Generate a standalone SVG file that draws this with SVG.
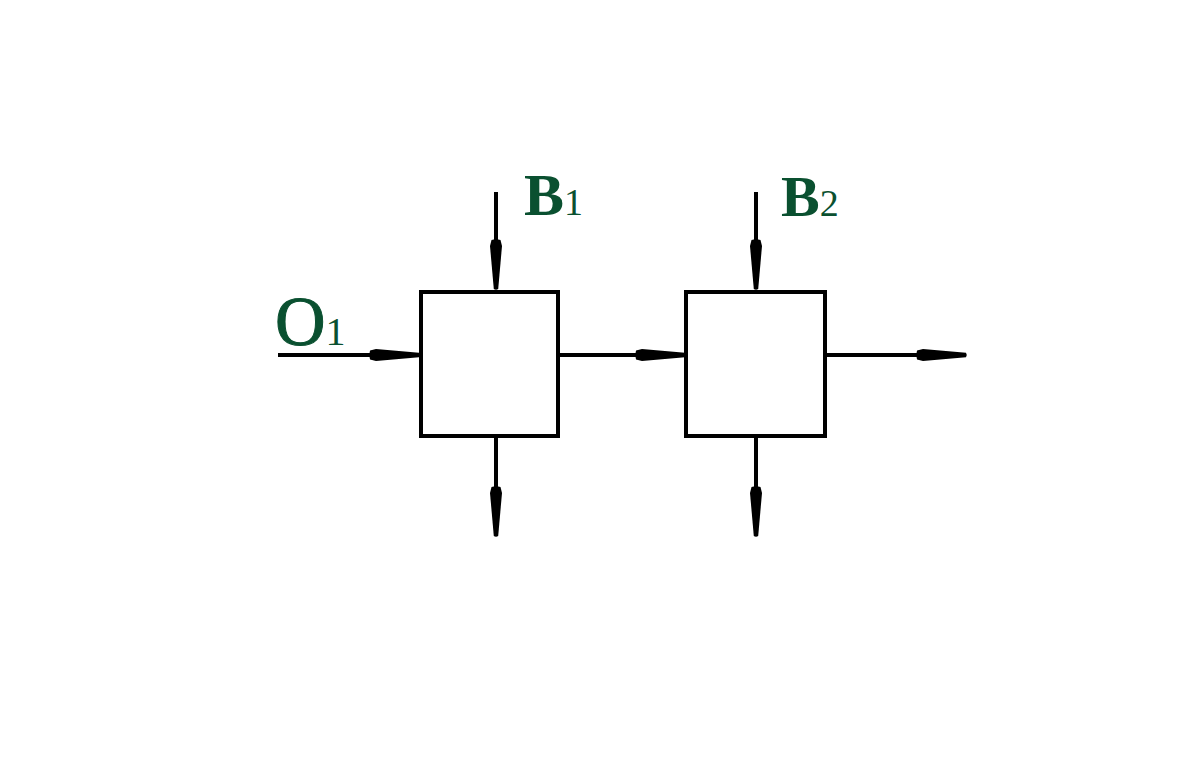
<svg xmlns="http://www.w3.org/2000/svg" width="1195" height="778" viewBox="0 0 1195 778">
<style>
.box{fill:none;stroke:#000;stroke-width:4}
.ln{stroke:#000;stroke-width:4;fill:none}
.head{fill:#000}
.lbl{font-family:"Liberation Serif","Times New Roman",serif;fill:#0a5030}
</style>
<defs>
<path id="ah" d="M-50,-4.5 Q-51.5,0 -50,4.5 L-44,6 L-1,2.2 Q0.5,0 -1,-2.2 L-44,-6 Z"/>
</defs>
<rect width="1195" height="778" fill="#fff"/>
<g id="connectors">
<line class="ln" x1="278" y1="355" x2="418" y2="355"/>
<use href="#ah" class="head" transform="translate(420,355)"/>
<line class="ln" x1="558" y1="355" x2="684" y2="355"/>
<use href="#ah" class="head" transform="translate(686,355)"/>
<line class="ln" x1="825" y1="355" x2="962" y2="355"/>
<use href="#ah" class="head" transform="translate(967,355)"/>
<line class="ln" x1="496" y1="192" x2="496" y2="288"/>
<use href="#ah" class="head" transform="translate(496,290) rotate(90)"/>
<line class="ln" x1="756" y1="192" x2="756" y2="288"/>
<use href="#ah" class="head" transform="translate(756,290) rotate(90)"/>
<line class="ln" x1="496" y1="436" x2="496" y2="532"/>
<use href="#ah" class="head" transform="translate(496,537) rotate(90)"/>
<line class="ln" x1="756" y1="436" x2="756" y2="532"/>
<use href="#ah" class="head" transform="translate(756,537) rotate(90)"/>
</g>
<g id="box1"><rect class="box" x="421" y="292" width="137" height="144"/></g>
<g id="box2"><rect class="box" x="686" y="292" width="139" height="144"/></g>
<g id="label-O1"><text class="lbl" x="275" y="345" font-size="70" stroke="#0a5030" stroke-width="1">O<tspan font-size="40" stroke="none">1</tspan></text></g>
<g id="label-B1"><text class="lbl" x="524" y="215" font-size="60" font-weight="bold">B<tspan font-size="38" font-weight="normal">1</tspan></text></g>
<g id="label-B2"><text class="lbl" x="781" y="216" font-size="58" font-weight="bold">B<tspan font-size="38" font-weight="normal">2</tspan></text></g>
</svg>
